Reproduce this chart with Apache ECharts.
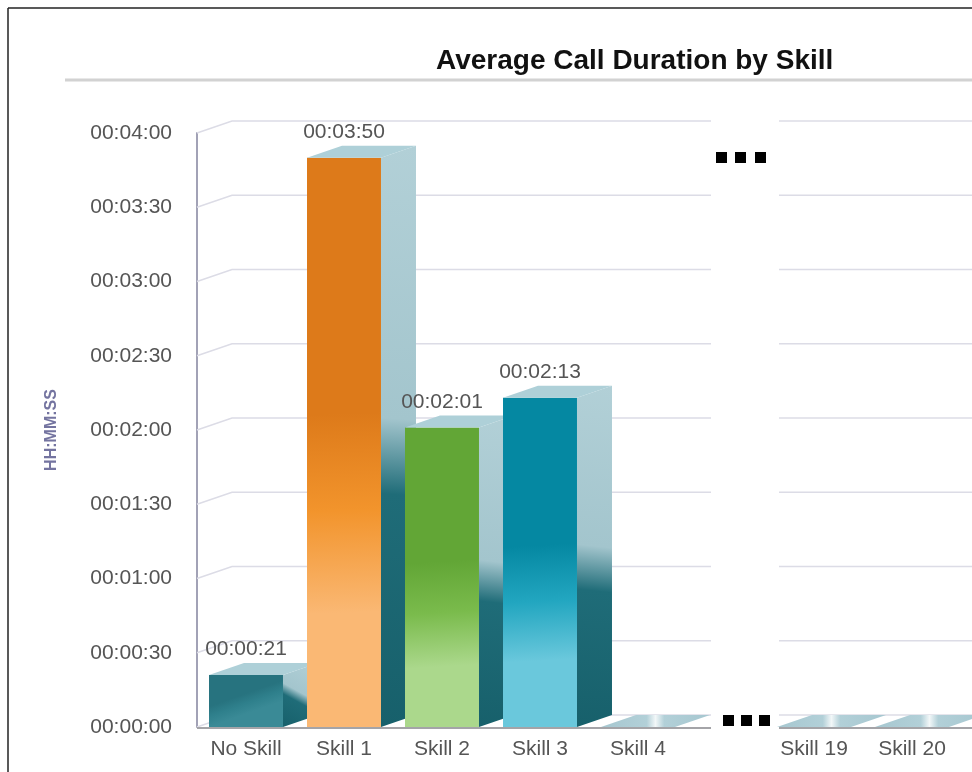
<!DOCTYPE html>
<html>
<head>
<meta charset="utf-8">
<title>Average Call Duration by Skill</title>
<script src="https://cdn.jsdelivr.net/npm/echarts@6/dist/echarts.min.js"></script>
<style>
  html, body { margin: 0; padding: 0; background: #fff; }
  #chart { width: 972px; height: 772px; }
</style>
</head>
<body>
<div id="chart"></div>
<script>
// data, durations in seconds
const skillsLeft = ['No Skill', 'Skill 1', 'Skill 2', 'Skill 3', 'Skill 4'];
const durationsLeft = [21, 230, 121, 133, 0];
const skillsRight = ['Skill 19', 'Skill 20'];
const durationsRight = [0, 0];
const yTicks = [0, 30, 60, 90, 120, 150, 180, 210, 240];

const FONT = '"Liberation Sans", Arial, sans-serif';
const DX = 35;   // box depth, x
const DY = -12;  // box depth, y

// front face gradients, one per bar
const frontLeft = [
  ['#27737f', '#2f808c', '#3a8a96'],
  ['#dd7a1a', '#f2942c', '#fab874'],
  ['#62a636', '#7abb4c', '#abd88c'],
  ['#0588a2', '#22a6c0', '#6ac8dc'],
  ['#2b7f8c', '#2b7f8c', '#2b7f8c']
];
const frontRight = [
  ['#2b7f8c', '#2b7f8c', '#2b7f8c'],
  ['#2b7f8c', '#2b7f8c', '#2b7f8c']
];

const toHms = (s) => {
  const h = Math.floor(s / 3600);
  const m = Math.floor((s % 3600) / 60);
  const sec = s % 60;
  const p = (n) => String(n).padStart(2, '0');
  return p(h) + ':' + p(m) + ':' + p(sec);
};

const grad = (x, y, x2, y2, stops) => ({
  type: 'linear', x: x, y: y, x2: x2, y2: y2,
  colorStops: stops.map((c) => ({ offset: c[0], color: c[1] }))
});

const makeBoxRenderer = (fronts) => (params, api) => {
  const idx = api.value(0);
  const v = api.value(1);
  const top = api.coord([idx, v]);
  const base = api.coord([idx, 0]);
  const w = api.size([1, 0])[0] * 0.755;
  const x0 = top[0] - w / 2;
  const x1 = top[0] + w / 2;
  const yt = top[1];
  const yb = base[1];
  const f = fronts[params.dataIndex];
  const children = [];

  if (yb - yt > 0.5) {
    children.push({
      type: 'rect',
      shape: { x: x0, y: yt, width: w, height: yb - yt },
      style: { fill: grad(0.2, 0, 0.45, 1, [[0, f[0]], [0.45, f[0]], [0.62, f[1]], [0.8, f[2]], [1, f[2]]]) }
    });
    children.push({
      type: 'polygon',
      shape: { points: [[x1, yb], [x1, yt], [x1 + DX, yt + DY], [x1 + DX, yb + DY]] },
      style: { fill: grad(1, 0, 0, 1, [[0, '#b2d0d7'], [0.47, '#a3c5cd'], [0.6, '#1f6c78'], [1, '#17606b']]) }
    });
  }
  children.push({
    type: 'polygon',
    shape: { points: [[x0, yt], [x1, yt], [x1 + DX, yt + DY], [x0 + DX, yt + DY]] },
    style: {
      fill: v > 0
        ? '#aed0d8'
        : grad(0, 0, 1, 0, [[0, '#a6c7d0'], [0.42, '#b2d0d8'], [0.5, '#f2f7f8'], [0.58, '#b2d0d8'], [1, '#a6c7d0']])
    }
  });
  if (v > 0) {
    children.push({
      type: 'text',
      style: {
        text: toHms(v),
        x: top[0],
        y: yt + DY - 3,
        align: 'center',
        verticalAlign: 'bottom',
        fill: '#555',
        fontSize: 21,
        fontFamily: FONT
      }
    });
  }
  return { type: 'group', children: children };
};

const makeGridRenderer = (startOff, endOff, wall) => (params, api) => {
  const cs = params.coordSys;
  const t = api.value(1);
  const y = api.coord([0, t])[1];
  const right = cs.x + cs.width + endOff;
  const children = [];
  const pts = wall
    ? [[cs.x, y], [cs.x + DX, y + DY], [right, y + DY]]
    : [[cs.x + startOff, y + DY], [right, y + DY]];
  children.push({
    type: 'polyline',
    shape: { points: pts },
    style: { stroke: '#dcdce6', lineWidth: 1.5, fill: null }
  });
  if (t === 0) {
    children.push({
      type: 'line',
      shape: { x1: cs.x + startOff, y1: y + 1, x2: right, y2: y + 1 },
      style: { stroke: '#a4a4a8', lineWidth: 2 }
    });
  }
  return { type: 'group', children: children };
};

const chart = echarts.init(document.getElementById('chart'));

const axisLabel = { color: '#555', fontSize: 21, fontFamily: FONT };

chart.setOption({
  animation: false,
  backgroundColor: '#fff',
  title: {
    text: 'Average Call Duration by Skill',
    left: 436,
    top: 47,
    padding: 0,
    textStyle: { fontSize: 28, fontWeight: 'bold', color: '#111', fontFamily: FONT }
  },
  graphic: [
    { type: 'line', shape: { x1: 8, y1: 8, x2: 972, y2: 8 }, style: { stroke: '#222', lineWidth: 1.5 } },
    { type: 'line', shape: { x1: 8, y1: 8, x2: 8, y2: 772 }, style: { stroke: '#222', lineWidth: 1.5 } },
    { type: 'line', shape: { x1: 65, y1: 80, x2: 972, y2: 80 }, style: { stroke: '#d2d2d2', lineWidth: 3 } },
    { type: 'rect', shape: { x: 716, y: 152, width: 11, height: 11 }, style: { fill: '#000' } },
    { type: 'rect', shape: { x: 735, y: 152, width: 11, height: 11 }, style: { fill: '#000' } },
    { type: 'rect', shape: { x: 755, y: 152, width: 11, height: 11 }, style: { fill: '#000' } },
    { type: 'rect', shape: { x: 723, y: 715, width: 11, height: 11 }, style: { fill: '#000' } },
    { type: 'rect', shape: { x: 741, y: 715, width: 11, height: 11 }, style: { fill: '#000' } },
    { type: 'rect', shape: { x: 759, y: 715, width: 11, height: 11 }, style: { fill: '#000' } }
  ],
  grid: [
    { left: 197, top: 133, width: 490, bottom: 45 },
    { left: 765, top: 133, width: 196, bottom: 45 }
  ],
  xAxis: [
    {
      gridIndex: 0, type: 'category', data: skillsLeft,
      axisLine: { show: false }, axisTick: { show: false },
      axisLabel: Object.assign({ margin: 12, interval: 0 }, axisLabel)
    },
    {
      gridIndex: 1, type: 'category', data: skillsRight,
      axisLine: { show: false }, axisTick: { show: false },
      axisLabel: Object.assign({ margin: 12, interval: 0 }, axisLabel)
    }
  ],
  yAxis: [
    {
      gridIndex: 0, type: 'value', min: 0, max: 240, interval: 30,
      name: 'HH:MM:SS', nameLocation: 'middle', nameGap: 137,
      nameTextStyle: { color: '#7474a0', fontSize: 16, fontWeight: 'bold', fontFamily: FONT },
      axisLine: { show: true, lineStyle: { color: '#a2a2b6', width: 2 } },
      axisTick: { show: false },
      splitLine: { show: false },
      axisLabel: Object.assign({ margin: 25, formatter: (v) => toHms(v) }, axisLabel)
    },
    {
      gridIndex: 1, type: 'value', min: 0, max: 240, interval: 30, show: false,
      splitLine: { show: false }
    }
  ],
  series: [
    {
      type: 'custom', xAxisIndex: 0, yAxisIndex: 0, z: 1, silent: true,
      data: yTicks.map((t) => [0, t]),
      renderItem: makeGridRenderer(0, 24, true)
    },
    {
      type: 'custom', xAxisIndex: 1, yAxisIndex: 1, z: 1, silent: true,
      data: yTicks.map((t) => [0, t]),
      renderItem: makeGridRenderer(14, 40, false)
    },
    {
      type: 'custom', xAxisIndex: 0, yAxisIndex: 0, z: 2, silent: true,
      data: durationsLeft.map((v, i) => [i, v]),
      renderItem: makeBoxRenderer(frontLeft)
    },
    {
      type: 'custom', xAxisIndex: 1, yAxisIndex: 1, z: 2, silent: true,
      data: durationsRight.map((v, i) => [i, v]),
      renderItem: makeBoxRenderer(frontRight)
    }
  ]
});
</script>
</body>
</html>
